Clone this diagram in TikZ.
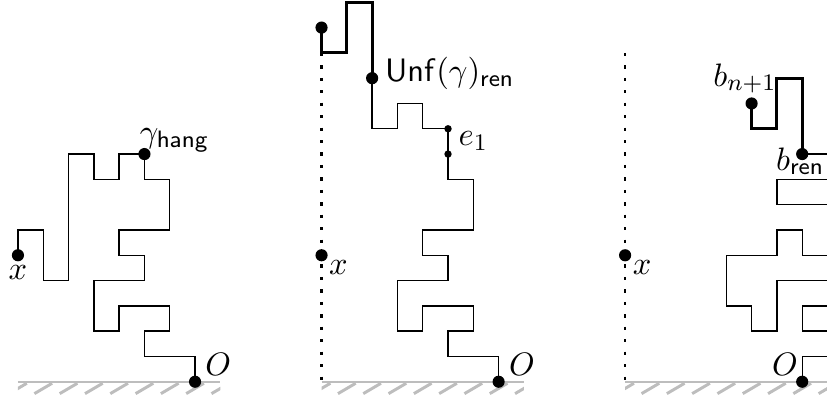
\documentclass[11pt,tikz,border=0pt]{standalone}
\usetikzlibrary{positioning}
\usepackage{amsmath,amssymb}
\usepackage{xcolor}
\definecolor{grnd}{HTML}{BDBDBD}

\begin{document}
\begin{tikzpicture}[x=0.3cm,y=0.3cm,
    every node/.style={inner sep=0pt},
    walk/.style={line width=0.45pt},
    boldwalk/.style={line width=0.95pt},
    wall/.style={line width=0.8pt,dash pattern=on 1.1pt off 3.1pt},
    bigdot/.style={circle,fill=black,minimum size=4.1pt},
    smalldot/.style={circle,fill=black,minimum size=2.5pt},
    lbl/.style={anchor=base west}]
  \useasboundingbox (-7.71,-0.76) rectangle (24.98,15.09);
  \clip (-7.71,-0.76) rectangle (24.98,15.09);

  % ground under the three panels
  \foreach \ox in {0,12,24} {
    \begin{scope}[shift={(\ox,0)}]
      \draw[grnd,line width=0.75pt] (-7,0) -- (1,0);
      \begin{scope}
        \clip (-7,-0.6) rectangle (1,0);
        \foreach \k in {-7,...,1}
          \draw[grnd,line width=1pt] (\k-0.35,-0.47) -- (\k+0.35,-0.06);
      \end{scope}
    \end{scope}
  }

  % panel 1 -- hanging walk from x to O
  \draw[walk] (-7,5) -- (-7,6) -- (-6,6) -- (-6,4) -- (-5,4) -- (-5,9) -- (-4,9)
    -- (-4,8) -- (-3,8) -- (-3,9) -- (-2,9) -- (-2,8) -- (-1,8) -- (-1,6) -- (-3,6)
    -- (-3,5) -- (-2,5) -- (-2,4) -- (-4,4) -- (-4,2) -- (-3,2) -- (-3,3) -- (-1,3)
    -- (-1,2) -- (-2,2) -- (-2,1) -- (0,1) -- (0,0);
  \node[bigdot] (x1) at (-7,5) {};
  \node[bigdot] (hang) at (-2,9) {};
  \node[bigdot] (O1) at (0,0) {};
  \node[anchor=base] (x1lbl) at (-7,4.03) {$x$};
  \node[lbl] (hanglbl) at (-2.2,9.46) {$\gamma_{\mathsf{hang}}$};
  \node[anchor=base] (O1lbl) at (0.92,0.26) {$O$};

  % panel 2 -- unfolded walk
  \begin{scope}[shift={(12,0)}]
    \draw[wall] (-7,13) -- (-7,0);
    \draw[boldwalk] (-7,14) -- (-7,13) -- (-6,13) -- (-6,15) -- (-5,15) -- (-5,12);
    \draw[walk] (-5,12) -- (-5,10) -- (-4,10) -- (-4,11) -- (-3,11) -- (-3,10) -- (-2,10);
    \draw[boldwalk] (-2,10) -- (-2,9);
    \draw[walk] (-2,9) -- (-2,8) -- (-1,8) -- (-1,6) -- (-3,6) -- (-3,5) -- (-2,5)
      -- (-2,4) -- (-4,4) -- (-4,2) -- (-3,2) -- (-3,3) -- (-1,3) -- (-1,2) -- (-2,2)
      -- (-2,1) -- (0,1) -- (0,0);
    \node[bigdot] (top2) at (-7,14) {};
    \node[bigdot] (unf) at (-5,12) {};
    \node[smalldot] (e1a) at (-2,10) {};
    \node[smalldot] (e1b) at (-2,9) {};
    \node[bigdot] (x2) at (-7,5) {};
    \node[bigdot] (O2) at (0,0) {};
    \node[lbl] (unflbl) at (-4.51,11.87) {$\mathsf{Unf}(\gamma)_{\mathsf{ren}}$};
    \node[lbl] (e1lbl) at (-1.6,9.32) {$e_1$};
    \node[anchor=base] (x2lbl) at (-6.33,4.23) {$x$};
    \node[anchor=base] (O2lbl) at (0.92,0.26) {$O$};
  \end{scope}

  % panel 3 -- renewal walk, cut at the right edge
  \begin{scope}[shift={(24,0)}]
    \draw[wall] (-7,13) -- (-7,0);
    \draw[boldwalk] (-2,11) -- (-2,10) -- (-1,10) -- (-1,12) -- (0,12) -- (0,9);
    \draw[walk] (0,9) -- (2,9);
    \draw[walk] (2,8) -- (-1,8) -- (-1,7) -- (2,7);
    \draw[walk] (2,5) -- (0,5) -- (0,6) -- (-1,6) -- (-1,5) -- (-3,5) -- (-3,3)
      -- (-2,3) -- (-2,2) -- (-1,2) -- (-1,4) -- (2,4);
    \draw[walk] (2,3) -- (0,3) -- (0,2) -- (2,2);
    \draw[walk] (0,0) -- (0,1) -- (2,1);
    \node[bigdot] (bn) at (-2,11) {};
    \node[bigdot] (bren) at (0,9) {};
    \node[bigdot] (x3) at (-7,5) {};
    \node[bigdot] (O3) at (0,0) {};
    \node[lbl] (bnlbl) at (-3.53,11.69) {$b_{n+1}$};
    \node[lbl] (brenlbl) at (-1.05,8.37) {$b_{\mathsf{ren}}$};
    \node[anchor=base] (x3lbl) at (-6.33,4.23) {$x$};
    \node[anchor=base] (O3lbl) at (-0.68,0.26) {$O$};
  \end{scope}
\end{tikzpicture}
\end{document}
